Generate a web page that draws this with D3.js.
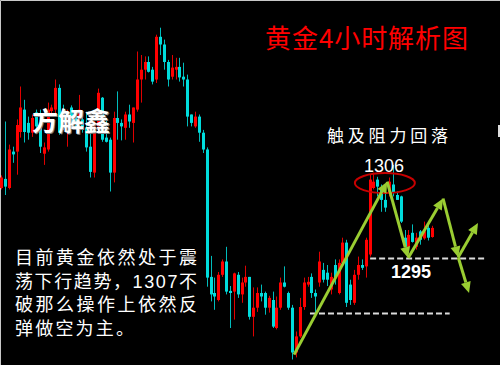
<!DOCTYPE html>
<html>
<head>
<meta charset="utf-8">
<script src="https://cdn.jsdelivr.net/npm/d3@7"></script>
<style>
  html, body { margin: 0; padding: 0; background: #000; }
  svg { display: block; }
</style>
</head>
<body>
<div id="chart"></div>
<script>
// CONSTANTS
const WIDTH = 500;
const HEIGHT = 365;

// 4h candles, oldest first
const opens = [1305.0,1306.3,1305.0,1310.2,1310.2,1313.0,1316.2,1314.3,1312.9,1315.8,
  1313.8,1309.9,1310.5,1316.0,1316.2,1319.3,1316.2,1314.3,1316.5,1315.5,
  1314.8,1314.8,1313.6,1310.9,1307.2,1313.8,1317.9,1312.2,1311.9,1307.2,
  1315.0,1314.3,1313.6,1315.5,1314.3,1316.2,1320.5,1321.9,1323.0,1321.9,
  1320.5,1326.6,1325.5,1323.0,1320.9,1321.9,1322.3,1320.9,1320.5,1315.5,
  1313.8,1315.2,1312.9,1310.5,1292.3,1290.0,1289.0,1292.6,1294.5,1290.3,
  1290.2,1292.6,1289.8,1291.5,1292.3,1286.6,1287.9,1290.0,1290.0,1287.9,
  1289.0,1285.0,1287.9,1291.5,1290.0,1287.9,1281.5,1283.8,1288.0,1291.2,
  1292.3,1290.0,1291.5,1293.3,1292.9,1290.5,1294.0,1290.0,1294.3,1297.2,
  1291.2,1288.6,1292.6,1294.0,1293.8,1295.5,1305.0,1306.2,1304.8,1303.3,
  1304.3,1305.5,1304.0,1303.8,1297.9,1296.6,1298.6,1296.6,1298.8,1297.8,
  1299.3,1298.0];
const highs = [1306.8,1314.5,1311.2,1310.9,1314.8,1319.5,1317.6,1315.2,1315.5,1316.2,
  1316.2,1311.5,1317.2,1316.9,1320.5,1319.8,1316.9,1316.2,1316.8,1315.9,
  1318.3,1315.5,1315.9,1312.9,1314.8,1319.2,1318.0,1315.0,1312.2,1315.9,
  1318.8,1314.8,1315.9,1316.9,1316.5,1324.5,1324.0,1323.8,1323.8,1322.3,
  1326.9,1327.9,1326.2,1323.3,1324.0,1323.6,1323.6,1322.9,1321.2,1315.5,
  1315.9,1315.5,1313.3,1310.8,1295.3,1292.2,1293.0,1294.8,1296.6,1291.0,
  1292.9,1293.0,1292.2,1293.9,1292.3,1290.8,1290.8,1291.2,1290.2,1289.6,
  1290.2,1289.5,1292.2,1293.8,1290.2,1288.3,1284.5,1289.3,1292.2,1292.3,
  1292.8,1290.5,1295.9,1294.3,1294.0,1292.9,1294.8,1294.8,1297.9,1297.6,
  1291.9,1293.3,1295.2,1294.8,1297.9,1306.9,1307.2,1306.6,1305.5,1304.3,
  1306.5,1308.3,1304.5,1303.9,1299.0,1299.0,1299.8,1298.6,1299.0,1300.2,
  1300.0,1299.6];
const lows = [1304.8,1304.0,1304.8,1308.6,1306.9,1312.2,1311.5,1311.9,1312.3,1313.3,
  1310.0,1308.3,1310.2,1315.5,1315.5,1312.6,1313.3,1310.9,1313.8,1313.3,
  1313.3,1312.9,1310.2,1306.5,1306.5,1313.0,1311.6,1311.5,1304.5,1305.8,
  1311.9,1311.8,1311.9,1313.6,1311.5,1315.9,1317.2,1320.5,1321.5,1319.8,
  1320.0,1324.0,1321.9,1319.5,1320.5,1320.5,1320.2,1319.5,1313.8,1313.8,
  1313.6,1311.6,1310.0,1290.9,1288.8,1287.6,1288.8,1292.3,1289.8,1285.0,
  1286.2,1289.3,1288.6,1290.9,1286.2,1283.8,1287.3,1288.8,1286.9,1287.2,
  1285.0,1284.8,1287.6,1290.8,1287.6,1280.5,1280.8,1283.6,1287.6,1290.9,
  1289.3,1287.2,1290.9,1291.5,1291.0,1289.8,1291.2,1289.8,1293.9,1288.0,
  1288.3,1288.3,1291.9,1293.3,1292.2,1295.2,1304.8,1303.8,1301.6,1301.6,
  1303.8,1303.8,1303.3,1300.0,1296.5,1296.2,1297.2,1296.2,1296.9,1297.6,
  1297.5,1297.9];
const closes = [1306.5,1305.2,1310.5,1309.8,1314.0,1316.5,1313.0,1312.9,1315.0,1313.8,
  1310.9,1310.8,1316.2,1316.5,1319.3,1312.9,1314.5,1315.8,1314.3,1314.0,
  1316.2,1313.3,1310.8,1307.3,1313.8,1318.6,1311.9,1311.6,1307.2,1315.0,
  1314.3,1313.8,1315.5,1314.5,1316.5,1320.5,1321.9,1323.0,1321.6,1320.2,
  1326.6,1325.5,1323.0,1320.5,1322.2,1322.3,1320.8,1320.5,1315.2,1314.3,
  1315.2,1312.9,1310.5,1292.2,1289.8,1289.5,1292.6,1294.5,1290.2,1290.0,
  1292.8,1289.8,1291.5,1292.3,1286.6,1287.9,1290.0,1289.5,1287.9,1289.3,
  1285.2,1287.9,1291.5,1290.9,1287.9,1281.5,1283.8,1288.0,1291.5,1291.6,
  1290.0,1289.5,1294.5,1291.9,1291.9,1292.3,1292.2,1294.3,1297.2,1288.6,
  1289.0,1292.6,1294.0,1293.6,1297.6,1306.2,1305.9,1305.2,1303.3,1302.2,
  1305.9,1304.3,1303.3,1300.2,1296.6,1298.3,1297.3,1297.9,1297.6,1298.8,
  1297.9,1299.3];

// annotation points: [candle index, price]
const ptLow = [75.4, 1281.2];
const ptTop = [99.4, 1305.9];
const ptPull = [104.8, 1295.0];
const ptBounce = [113.8, 1303.5];
const ptTest = [117.7, 1295.1];
const ptUp = [122.8, 1300.0];
const ptDown = [120.5, 1290.0];
const arrowLegs = [[ptLow, ptTop], [ptTop, ptPull], [ptPull, ptBounce],
  [ptBounce, ptTest], [ptTest, ptUp], [ptTest, ptDown]];

const supportLevels = [
  { price: 1295.0, from: 95, to: 124.5 },
  { price: 1287.2, from: 79.5, to: 115.5 }
];
const resistZone = { index: 98.8, price: 1305.7 };

const title = "黄金4小时解析图";
const brand = "方解鑫";
const resistLabel = "触及阻力回落";
const highLabel = "1306";
const supportLabel = "1295";
const commentLines = ["目前黄金依然处于震", "荡下行趋势，1307不", "破那么操作上依然反", "弹做空为主。"];

const UP = "#ff0000";
const DOWN = "#00dcdc";
const UP_WICK = "#e00000";
const DOWN_WICK = "#00bcbc";
const ARROW = "#9acd32";

const candles = opens.map((o, i) => ({ i, o, h: highs[i], l: lows[i], c: closes[i] }));

const x = d3.scaleLinear().domain([0, candles.length - 1]).range([1.5, 432.2]);
const y = d3.scaleLinear().domain([1280, 1332]).range([363, -1]);

const svg = d3.select("#chart")
  .append("svg")
  .attr("width", WIDTH)
  .attr("height", HEIGHT);

svg.append("rect")
  .attr("width", WIDTH)
  .attr("height", HEIGHT)
  .attr("fill", "#000");

// frame on top and left edge
svg.append("path")
  .attr("d", `M0.5,${HEIGHT} V0.5 H${WIDTH}`)
  .attr("fill", "none")
  .attr("stroke", "#c8c8c8");
svg.append("rect")
  .attr("x", 498).attr("y", 125)
  .attr("width", 2).attr("height", 12)
  .attr("fill", "#ddd");

// CANDLES
const candleG = svg.append("g").attr("id", "candles");
const left = d => Math.round(x(d.i) - 1.5);

candleG.selectAll("line")
  .data(candles)
  .enter()
  .append("line")
  .attr("x1", d => left(d) + 1.5)
  .attr("x2", d => left(d) + 1.5)
  .attr("y1", d => y(d.h))
  .attr("y2", d => y(d.l))
  .attr("stroke", d => d.c >= d.o ? UP_WICK : DOWN_WICK)
  .attr("stroke-width", 1);

candleG.selectAll("rect")
  .data(candles)
  .enter()
  .append("rect")
  .attr("x", d => left(d))
  .attr("width", 3)
  .attr("y", d => y(Math.max(d.o, d.c)))
  .attr("height", d => Math.max(1, Math.abs(y(d.o) - y(d.c))))
  .attr("fill", d => d.c >= d.o ? UP : DOWN);

// SUPPORT LINES
svg.append("g")
  .selectAll("line")
  .data(supportLevels)
  .enter()
  .append("line")
  .attr("x1", d => x(d.from))
  .attr("x2", d => x(d.to))
  .attr("y1", d => Math.round(y(d.price)) + 0.5)
  .attr("y2", d => Math.round(y(d.price)) + 0.5)
  .attr("stroke", "#dcdcdc")
  .attr("stroke-width", 2)
  .attr("stroke-dasharray", "6,3");

// RESISTANCE ELLIPSE
svg.append("ellipse")
  .attr("cx", x(resistZone.index))
  .attr("cy", y(resistZone.price))
  .attr("rx", 30)
  .attr("ry", 10)
  .attr("fill", "none")
  .attr("stroke", "#c80000")
  .attr("stroke-width", 2);

// ARROWS
const arrowG = svg.append("g").attr("id", "arrows");
arrowLegs.forEach(([a, b]) => {
  const x0 = x(a[0]), y0 = y(a[1]), x1 = x(b[0]), y1 = y(b[1]);
  const len = Math.hypot(x1 - x0, y1 - y0);
  const ux = (x1 - x0) / len, uy = (y1 - y0) / len;
  const head = 11, half = 5;
  const bx = x1 - ux * head, by = y1 - uy * head;
  arrowG.append("line")
    .attr("x1", x0).attr("y1", y0)
    .attr("x2", bx).attr("y2", by)
    .attr("stroke", ARROW)
    .attr("stroke-width", 3);
  arrowG.append("path")
    .attr("d", d3.line()([[x1, y1], [bx - uy * half, by + ux * half], [bx + uy * half, by - ux * half]]) + "Z")
    .attr("fill", ARROW);
});

// TEXTS
const CJK = "'Noto Sans CJK SC', sans-serif";
const MIXED = "'Liberation Sans', 'Noto Sans CJK SC', sans-serif";

svg.append("text")
  .attr("x", 265).attr("y", 48)
  .attr("font-family", CJK)
  .attr("font-size", 26)
  .attr("textLength", 203)
  .attr("lengthAdjust", "spacing")
  .attr("fill", "#ff0000")
  .text(title);

// brand mark with a soft grey shade behind
svg.append("text")
  .attr("x", 33).attr("y", 132)
  .attr("font-family", CJK)
  .attr("font-size", 26)
  .attr("font-weight", "bold")
  .attr("fill", "#808080")
  .text(brand);
svg.append("text")
  .attr("x", 32).attr("y", 131)
  .attr("font-family", CJK)
  .attr("font-size", 26)
  .attr("font-weight", "bold")
  .attr("fill", "#ffffff")
  .text(brand);

svg.append("text")
  .attr("x", 327).attr("y", 142)
  .attr("font-family", CJK)
  .attr("font-size", 17)
  .attr("textLength", 121)
  .attr("lengthAdjust", "spacing")
  .attr("fill", "#ffffff")
  .text(resistLabel);

svg.append("text")
  .attr("x", 364).attr("y", 172)
  .attr("font-family", MIXED)
  .attr("font-size", 18)
  .attr("fill", "#ffffff")
  .text(highLabel);

svg.append("text")
  .attr("x", 391).attr("y", 278)
  .attr("font-family", MIXED)
  .attr("font-size", 18)
  .attr("font-weight", "bold")
  .attr("fill", "#ffffff")
  .text(supportLabel);

svg.append("g")
  .selectAll("text")
  .data(commentLines)
  .enter()
  .append("text")
  .attr("x", 15)
  .attr("y", (d, i) => 264 + i * 23.5)
  .attr("font-family", MIXED)
  .attr("font-size", 18)
  .attr("fill", "#ffffff")
  .attr("letter-spacing", (d, i) => i === 3 ? 2.2 : null)
  .attr("textLength", (d, i) => i === 3 ? null : 182)
  .attr("lengthAdjust", "spacing")
  .text(d => d);
</script>
</body>
</html>
